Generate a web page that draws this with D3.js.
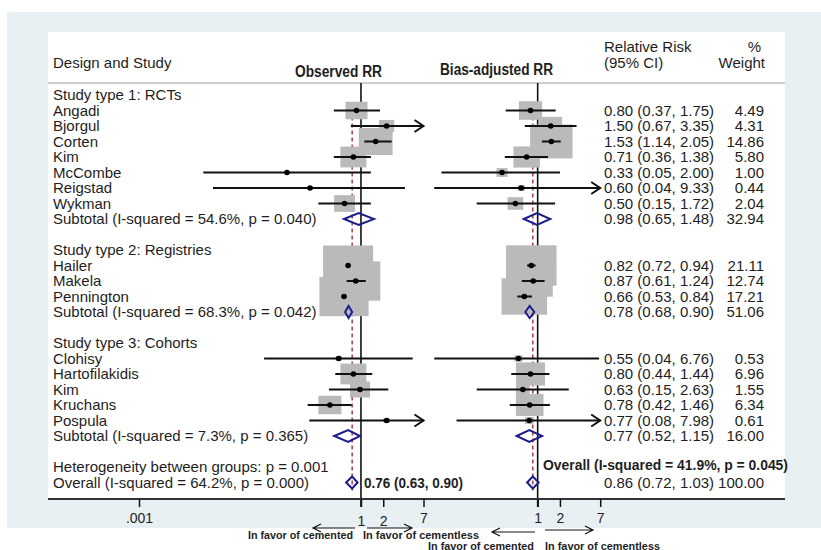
<!DOCTYPE html>
<html>
<head>
<meta charset="utf-8">
<script src="https://cdn.jsdelivr.net/npm/d3@7"></script>
<style>
    body { margin: 0; background: #fff; }
    text { font-family: "Liberation Sans", Arial, sans-serif; fill: #1e1e1e; }
    .narrow { font-family: "Liberation Sans Narrow", "Arial Narrow", "Liberation Sans", sans-serif; font-weight: bold; }
</style>
</head>
<body>
<svg id="chart"></svg>
<script>
// rows of the forest plot, top to bottom
const rowLabels = [
    "Study type 1: RCTs", "Angadi", "Bjorgul", "Corten", "Kim", "McCombe", "Reigstad", "Wykman",
    "Subtotal (I-squared = 54.6%, p = 0.040)", "",
    "Study type 2: Registries", "Hailer", "Makela", "Pennington",
    "Subtotal (I-squared = 68.3%, p = 0.042)", "",
    "Study type 3: Cohorts", "Clohisy", "Hartofilakidis", "Kim", "Kruchans", "Pospula",
    "Subtotal (I-squared = 7.3%, p = 0.365)", "",
    "Heterogeneity between groups: p = 0.001",
    "Overall (I-squared = 64.2%, p = 0.000)"
];
const rowKinds = [
    "group", "study", "study", "study", "study", "study", "study", "study", "sub", "blank",
    "group", "study", "study", "study", "sub", "blank",
    "group", "study", "study", "study", "study", "study", "sub", "blank",
    "note", "sub"
];

// observed RR
const obsRR = [null, 0.87, 2.22, 1.58, 0.79, 0.10, 0.205, 0.60, 0.93, null,
    null, 0.67, 0.85, 0.59, 0.68, null,
    null, 0.50, 0.79, 0.97, 0.38, 2.22, 0.67, null, null, 0.76];
const obsLo = [null, 0.43, 0.73, 1.11, 0.43, 0.0074, 0.010, 0.265, 0.59, null,
    null, 0.63, 0.64, 0.56, 0.61, null,
    null, 0.049, 0.45, 0.37, 0.19, 0.20, 0.435, null, null, 0.63];
const obsHi = [null, 1.81, 9.0, 2.6, 1.36, 1.36, 3.93, 1.36, 1.50, null,
    null, 0.71, 1.16, 0.63, 0.76, null,
    null, 5.0, 1.42, 2.34, 0.75, 12.0, 0.97, null, null, 0.90];
const obsWeight = [null, 4.0, 1.9, 9.5, 5.6, 0.15, 0.15, 3.6, null, null,
    null, 20.7, 20.0, 20.0, null, null,
    null, 0.3, 5.6, 3.3, 4.4, 0.3, null, null, null, null];

// bias-adjusted RR (printed in the right columns)
const adjRR = [null, 0.80, 1.50, 1.53, 0.71, 0.33, 0.60, 0.50, 0.98, null,
    null, 0.82, 0.87, 0.66, 0.78, null,
    null, 0.55, 0.80, 0.63, 0.78, 0.77, 0.77, null, null, 0.86];
const adjLo = [null, 0.37, 0.67, 1.14, 0.36, 0.05, 0.04, 0.15, 0.65, null,
    null, 0.72, 0.61, 0.53, 0.68, null,
    null, 0.04, 0.44, 0.15, 0.42, 0.08, 0.52, null, null, 0.72];
const adjHi = [null, 1.75, 3.35, 2.05, 1.38, 2.00, 9.33, 1.72, 1.48, null,
    null, 0.94, 1.24, 0.84, 0.90, null,
    null, 6.76, 1.44, 2.63, 1.46, 7.98, 1.15, null, null, 1.03];
const adjWeight = [null, 4.49, 4.31, 14.86, 5.80, 1.00, 0.44, 2.04, 32.94, null,
    null, 21.11, 12.74, 17.21, 51.06, null,
    null, 0.53, 6.96, 1.55, 6.34, 0.61, 16.00, null, null, 100.00];

const obsOverall = 0.76;
const adjOverall = 0.86;
const axisTicksLeft = [0.001, 1, 2, 7];
const axisTicksRight = [1, 2, 7];

const width = 821;
const height = 550;

const svg = d3.select("#chart")
    .attr("width", width)
    .attr("height", height);

// backgrounds
svg.append("rect").attr("x", 7).attr("y", 12).attr("width", 814).attr("height", 516).attr("fill", "#e9f0f3");
svg.append("rect").attr("x", 48).attr("y", 32).attr("width", 737).attr("height", 467).attr("fill", "#fff");
svg.append("line").attr("x1", 48).attr("x2", 785).attr("y1", 83).attr("y2", 83)
    .attr("stroke", "#cfcfcf").attr("stroke-width", 2);

const y = d3.scaleLinear().domain([0, 25]).range([95, 482.5]);
const xL = d3.scaleLog().domain([0.001, 7]).range([139, 423.5]);
const xR = d3.scaleLog().domain([0.001, 7]).range([315.7, 600.2]);
const boxW = d3.scaleSqrt().domain([0, 21.11]).range([0, 50.5]);
const fmt = d3.format(".2f");
const rows = d3.range(rowLabels.length);

// headers
svg.append("text").attr("x", 53).attr("y", 68).attr("font-size", 15).text("Design and Study");
svg.append("text").attr("class", "narrow").attr("x", 295).attr("y", 77).attr("font-size", 16)
    .attr("textLength", 87).attr("lengthAdjust", "spacingAndGlyphs").text("Observed RR");
svg.append("text").attr("class", "narrow").attr("x", 440).attr("y", 75).attr("font-size", 16)
    .attr("textLength", 113).attr("lengthAdjust", "spacingAndGlyphs").text("Bias-adjusted RR");
svg.append("text").attr("x", 604).attr("y", 52).attr("font-size", 15).text("Relative Risk");
svg.append("text").attr("x", 604).attr("y", 68).attr("font-size", 15).text("(95% CI)");
svg.append("text").attr("x", 761).attr("y", 52).attr("font-size", 15).attr("text-anchor", "end").text("%");
svg.append("text").attr("x", 765).attr("y", 68).attr("font-size", 15).attr("text-anchor", "end").text("Weight");

// row labels
svg.selectAll("text.label")
    .data(rows.filter(i => rowLabels[i] !== ""))
    .enter()
    .append("text")
    .attr("class", "label")
    .attr("x", 53)
    .attr("y", i => y(i) + 5)
    .attr("font-size", 15)
    .text(i => rowLabels[i]);

// value columns
const valueRows = rows.filter(i => adjRR[i] !== null);
svg.selectAll("text.value")
    .data(valueRows)
    .enter()
    .append("text")
    .attr("class", "value")
    .attr("x", 604)
    .attr("y", i => y(i) + 5)
    .attr("font-size", 15)
    .text(i => `${fmt(adjRR[i])} (${fmt(adjLo[i])}, ${fmt(adjHi[i])})`);
svg.selectAll("text.weight")
    .data(valueRows)
    .enter()
    .append("text")
    .attr("class", "weight")
    .attr("x", 764)
    .attr("y", i => y(i) + 5)
    .attr("font-size", 15)
    .attr("text-anchor", "end")
    .text(i => fmt(adjWeight[i]));

function drawPanel(x, rr, lo, hi, weight, overall) {
    const g = svg.append("g");
    const top = 83, bottom = 507;
    const clipMax = x.domain()[1];

    g.append("line")
        .attr("x1", x(1)).attr("x2", x(1)).attr("y1", top).attr("y2", bottom)
        .attr("stroke", "#111").attr("stroke-width", 1.6);
    g.append("line")
        .attr("x1", x(overall)).attr("x2", x(overall)).attr("y1", y(1) - 8).attr("y2", y(25) + 8)
        .attr("stroke", "#a3303c").attr("stroke-width", 1.4).attr("stroke-dasharray", "4,3");

    const studies = rows.filter(i => rowKinds[i] === "study");
    const subs = rows.filter(i => rowKinds[i] === "sub");

    g.selectAll("rect.box")
        .data(studies)
        .enter()
        .append("rect")
        .attr("class", "box")
        .attr("x", i => x(rr[i]) - boxW(weight[i]) / 2)
        .attr("y", i => y(i) - boxW(weight[i]) * 0.4)
        .attr("width", i => boxW(weight[i]))
        .attr("height", i => boxW(weight[i]) * 0.8)
        .attr("fill", "#bababa");

    g.selectAll("line.ci")
        .data(studies)
        .enter()
        .append("line")
        .attr("class", "ci")
        .attr("x1", i => x(lo[i]))
        .attr("x2", i => x(Math.min(hi[i], clipMax)))
        .attr("y1", i => y(i))
        .attr("y2", i => y(i))
        .attr("stroke", "#111")
        .attr("stroke-width", 2);

    g.selectAll("path.arrow")
        .data(studies.filter(i => hi[i] > clipMax))
        .enter()
        .append("path")
        .attr("class", "arrow")
        .attr("d", i => `M${x(clipMax) - 9},${y(i) - 6}L${x(clipMax)},${y(i)}L${x(clipMax) - 9},${y(i) + 6}`)
        .attr("fill", "none")
        .attr("stroke", "#111")
        .attr("stroke-width", 2);

    g.selectAll("circle.pt")
        .data(studies)
        .enter()
        .append("circle")
        .attr("class", "pt")
        .attr("cx", i => x(rr[i]))
        .attr("cy", i => y(i))
        .attr("r", 2.8)
        .attr("fill", "#000");

    g.selectAll("path.diamond")
        .data(subs)
        .enter()
        .append("path")
        .attr("class", "diamond")
        .attr("d", i => `M${x(lo[i])},${y(i)}L${x(rr[i])},${y(i) - 6}L${x(hi[i])},${y(i)}L${x(rr[i])},${y(i) + 6}Z`)
        .attr("fill", "none")
        .attr("stroke", "#1c1c8a")
        .attr("stroke-width", 2);
}

drawPanel(xL, obsRR, obsLo, obsHi, obsWeight, obsOverall);
drawPanel(xR, adjRR, adjLo, adjHi, adjWeight, adjOverall);

// bold annotations
svg.append("text").attr("class", "narrow").attr("x", 364).attr("y", 488).attr("font-size", 14)
    .attr("textLength", 99).attr("lengthAdjust", "spacingAndGlyphs").text("0.76 (0.63, 0.90)");
svg.append("text").attr("class", "narrow").attr("x", 543).attr("y", 470).attr("font-size", 14.5)
    .attr("textLength", 245).attr("lengthAdjust", "spacingAndGlyphs").text("Overall (I-squared = 41.9%, p = 0.045)");

// x axes
svg.append("line").attr("x1", 48).attr("x2", 785).attr("y1", 499).attr("y2", 499)
    .attr("stroke", "#333").attr("stroke-width", 2);

function drawAxis(x, ticks) {
    const ax = svg.append("g")
        .attr("transform", "translate(0,499)")
        .call(d3.axisBottom(x).tickValues(ticks).tickSize(8).tickPadding(6)
            .tickFormat(d => d === 0.001 ? ".001" : d3.format("d")(d)));
    ax.select(".domain").remove();
    ax.selectAll(".tick line").attr("stroke", "#111").attr("stroke-width", 1.5);
    ax.selectAll(".tick text").attr("font-size", 14).attr("font-family", "Liberation Sans, Arial, sans-serif")
        .attr("fill", "#1e1e1e");
    return ax;
}
const axL = drawAxis(xL, axisTicksLeft);
drawAxis(xR, axisTicksRight);
// the 1 and 2 labels of the left panel sit a little lower, on the arrows
axL.selectAll(".tick text").filter(d => d === 1 || d === 2).attr("dy", "0.95em");

// direction arrows
function arrow(x1, x2, yy) {
    const dir = x2 > x1 ? 1 : -1;
    svg.append("path")
        .attr("d", `M${x1},${yy}L${x2},${yy}M${x2 - dir * 8},${yy - 4}L${x2},${yy}L${x2 - dir * 8},${yy + 4}`)
        .attr("fill", "none").attr("stroke", "#111").attr("stroke-width", 1.2);
}
arrow(355, 313, 528);
arrow(367, 412, 528);
arrow(535, 492, 532);
arrow(545, 593, 530);

const favorLabels = ["In favor of cemented", "In favor of cementless"];
svg.append("text").attr("class", "narrow").attr("x", 248).attr("y", 539).attr("font-size", 10.5)
    .attr("textLength", 105).attr("lengthAdjust", "spacingAndGlyphs").text(favorLabels[0]);
svg.append("text").attr("class", "narrow").attr("x", 363).attr("y", 539).attr("font-size", 10.5)
    .attr("textLength", 116).attr("lengthAdjust", "spacingAndGlyphs").text(favorLabels[1]);
svg.append("text").attr("class", "narrow").attr("x", 428).attr("y", 549.5).attr("font-size", 10.5)
    .attr("textLength", 106).attr("lengthAdjust", "spacingAndGlyphs").text(favorLabels[0]);
svg.append("text").attr("class", "narrow").attr("x", 545).attr("y", 549.5).attr("font-size", 10.5)
    .attr("textLength", 115).attr("lengthAdjust", "spacingAndGlyphs").text(favorLabels[1]);
</script>
</body>
</html>
